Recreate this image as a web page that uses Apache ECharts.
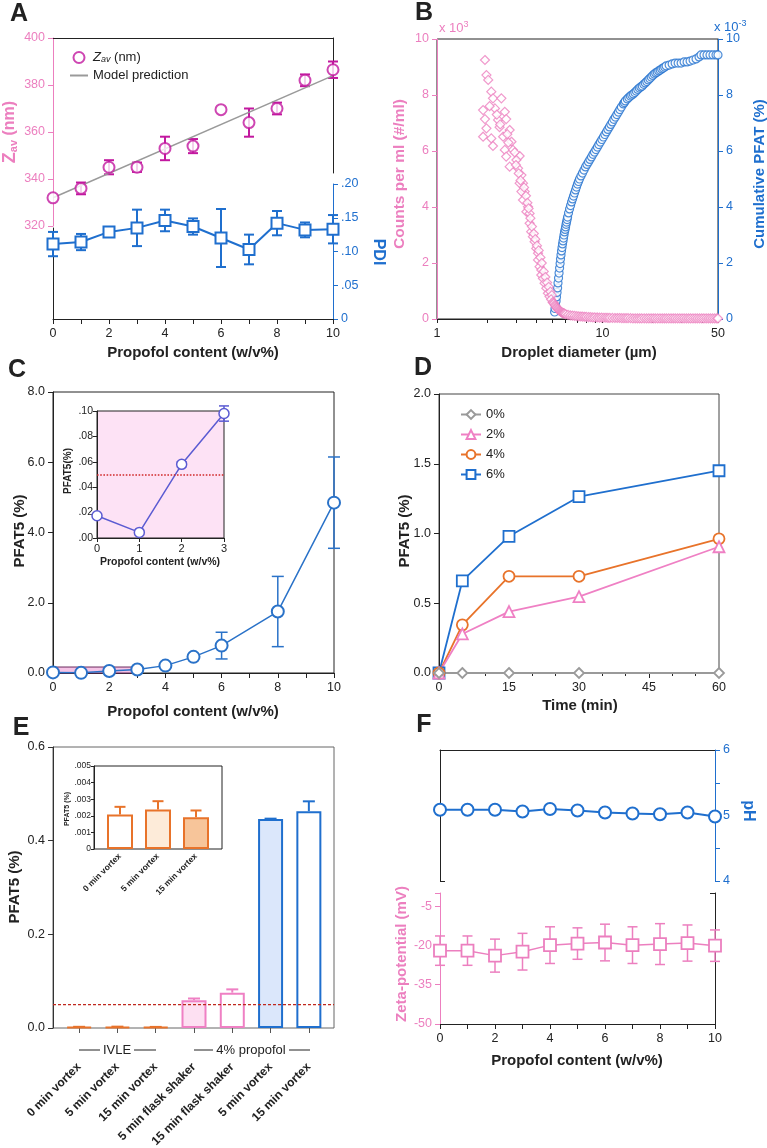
<!DOCTYPE html>
<html><head><meta charset="utf-8">
<script src="https://cdn.jsdelivr.net/npm/echarts@6/dist/echarts.min.js"></script>
<style>html,body{margin:0;padding:0;background:#fff}#c{width:767px;height:1148px}</style>
</head><body><div id="c"></div>
<script>
// ================= DATA =================
// Panel A
const propofolX = [0,1,2,3,4,5,6,7,8,9,10];
const zavMean = [332,336,345,345,353,354,369.5,364,370,382,386.5];
const zavErr  = [0,2.5,3,2,5,3,0,6,2.5,2.5,3.5];
const modelX = [0,10];
const modelY = [332,384];
const pdiMean = [0.111,0.114,0.129,0.135,0.146,0.137,0.120,0.103,0.142,0.132,0.133];
const pdiErr  = [0.018,0.012,0,0.027,0.016,0.012,0.043,0.022,0.018,0.011,0.021];
// Panel B (diameter µm, counts x10^3 /ml)
const bCountsPts = [
 [1.95,9.25],[1.99,8.71],[2.04,8.54],[2.13,8.12],[2.18,7.88],[2.45,7.88],[1.90,7.46],[2.24,7.52],[2.57,7.40],
 [1.95,7.14],[2.34,7.11],[2.62,7.14],[1.99,6.81],[2.39,6.85],[2.75,6.75],[1.90,6.51],[2.13,6.45],[2.18,6.18],
 [2.51,6.51],[2.82,6.33],[2.57,6.04],[2.88,6.04],[2.62,5.80],[3.16,5.82],[2.75,5.44],[3.02,5.68],[3.09,5.38],
 [3.24,5.14],[3.31,4.85],[3.16,4.85],[3.39,4.55],[3.24,4.55],[3.31,4.25],[3.55,4.01],[3.47,3.83],[3.63,3.77],
 [3.63,3.42],[3.71,3.12],[3.80,2.94],[3.89,2.76],[3.98,2.52],[4.08,2.35],[4.08,2.11],[4.17,1.87],[4.27,1.75],
 [4.27,1.57],[4.37,1.45],[4.47,1.28],[4.58,1.10],[4.68,0.92],[4.79,0.80],
 [2.08,7.60],[2.30,7.30],[2.41,6.95],[2.66,6.60],[2.70,6.30],[2.95,5.95],[3.00,5.50],[3.12,5.20],[3.20,4.95],
 [3.36,4.70],[3.45,4.40],[3.52,4.15],[3.58,3.95],[3.67,3.60],[3.75,3.30],[3.85,3.05],[3.93,2.85],[4.02,2.62],
 [4.12,2.45],[4.22,2.20],[4.30,2.00],[4.42,1.70],[4.52,1.50],[4.63,1.30],[4.74,1.15],[4.85,0.98],[4.95,0.85],
 [4.90,0.70],[5.00,0.60],[5.05,0.58],[5.10,0.55],[5.15,0.50],[5.20,0.47],[5.25,0.43],[5.30,0.40],[5.35,0.37],
 [5.40,0.35],[5.45,0.32],[5.50,0.30],[5.55,0.28],[5.60,0.26],[5.65,0.245],[5.70,0.23],[5.75,0.22],[5.80,0.21],
 [5.85,0.20],[5.90,0.19],[6.00,0.17],[6.20,0.15],[6.40,0.13],[6.60,0.12],[6.80,0.11],[7.00,0.10],[7.20,0.095],
 [7.40,0.09],[7.60,0.085],[7.80,0.08],[8.00,0.075],[8.25,0.07],[8.50,0.065],[8.75,0.06],[9.00,0.06],[9.30,0.055],
 [9.60,0.05],[9.90,0.05],[10.2,0.045],[10.5,0.045],[10.8,0.04],[11.1,0.04],[11.5,0.04],[11.9,0.035],[12.3,0.035],
 [12.7,0.035],[13.1,0.03],[13.5,0.03],[13.9,0.03],[14.3,0.03],[14.8,0.03],[15.3,0.025],[15.8,0.025],[16.3,0.025],
 [16.8,0.025],[17.3,0.025],[17.9,0.025],[18.5,0.02],[19.1,0.02],[19.7,0.02],[20.3,0.02],[20.9,0.02],[21.6,0.02],
 [22.3,0.02],[23.0,0.02],[23.7,0.02],[24.4,0.02],[25.2,0.02],[26.0,0.02],[26.8,0.02],[27.6,0.02],[28.5,0.02],
 [29.4,0.02],[30.3,0.02],[31.2,0.02],[32.2,0.02],[33.2,0.02],[34.2,0.02],[35.3,0.02],[36.4,0.02],[37.5,0.02],
 [38.7,0.02],[39.9,0.02],[41.1,0.02],[42.4,0.02],[43.7,0.02],[45.0,0.02],[46.4,0.02],[47.8,0.02],[49.2,0.02],[50.0,0.02]
];
// cumulative PFAT (x10^-3 %)
const bCumPts = [
 [5.14,0.25],[5.17,0.375],[5.21,0.50],[5.25,0.64],[5.28,0.79],[5.32,0.95],[5.36,1.11],[5.39,1.29],[5.43,1.46],
 [5.47,1.64],[5.51,1.82],[5.55,1.98],[5.58,2.14],[5.62,2.29],[5.66,2.43],[5.70,2.55],[5.74,2.68],[5.78,2.79],
 [5.82,2.89],[5.86,3.00],[5.90,3.11],[5.95,3.20],[5.99,3.29],[6.03,3.38],[6.07,3.46],[6.12,3.55],[6.16,3.64],
 [6.24,3.79],[6.33,3.93],[6.42,4.05],[6.51,4.18],[6.60,4.29],[6.69,4.39],[6.78,4.50],[6.88,4.61],[6.97,4.71],
 [7.07,4.82],[7.17,4.91],[7.27,5.00],[7.42,5.11],[7.58,5.21],[7.74,5.32],[7.90,5.43],[8.07,5.52],[8.24,5.61],
 [8.41,5.70],[8.59,5.79],[8.77,5.88],[8.95,5.96],[9.14,6.05],[9.33,6.14],[9.52,6.23],[9.72,6.32],[9.93,6.41],
 [10.14,6.50],[10.35,6.59],[10.57,6.68],[10.79,6.77],[11.02,6.86],[11.25,6.95],[11.49,7.04],[11.73,7.13],
 [11.98,7.21],[12.23,7.30],[12.49,7.39],[12.75,7.48],[13.02,7.57],[13.38,7.68],[13.57,7.73],[13.76,7.79],
 [14.14,7.86],[14.44,7.91],[14.75,7.96],[15.05,8.00],[15.37,8.04],[15.70,8.09],[16.02,8.14],[16.36,8.20],
 [16.71,8.25],[17.06,8.29],[17.42,8.32],[17.78,8.38],[18.16,8.43],[18.54,8.48],[18.93,8.54],[19.33,8.59],
 [19.73,8.64],[20.15,8.70],[20.57,8.75],[21.00,8.79],[21.45,8.82],[21.90,8.86],[22.36,8.89],[22.83,8.93],
 [23.31,8.96],[23.80,9.00],[24.30,9.04],[25.33,9.07],[26.41,9.11],[27.53,9.14],[28.70,9.14],[29.92,9.14],
 [31.19,9.18],[32.51,9.18],[33.90,9.21],[35.34,9.25],[36.84,9.29],[38.40,9.36],[39.48,9.43],[41.16,9.43],
 [42.91,9.43],[44.73,9.43],[46.64,9.43],[48.62,9.43],[49.99,9.43]
];
const bLabelVals = [1,10,50];
const bTickVals = [1,2,3,4,5,6,7,8,9,10,20,30,40,50];
// Panel C
const cX = [0,1,2,3,4,5,6,8,10];
const cMean = [0.0175,0.0044,0.058,0.098,0.21,0.46,0.78,1.75,4.85];
const cErr  = [0,0,0.002,0.006,0,0,0.38,1.0,1.3];
const cInsetX = [0,1,2,3];
const cInsetMean = [0.0175,0.0044,0.058,0.098];
const cInsetErr  = [0,0,0.002,0.006];
const cThreshold = 0.05;
const cZoomBox = [[0,0],[3,0.17]];
// Panel D
const dTime = [0,5,15,30,60];
const d0 = [0,0,0,0,0];
const d2 = [0,0.28,0.44,0.547,0.905];
const d4 = [0,0.345,0.693,0.693,0.962];
const d6 = [0,0.66,0.98,1.264,1.45];
// Panel E
const eCats = ['0 min vortex','5 min vortex','15 min vortex','5 min flask shaker','15 min flask shaker','5 min vortex','15 min vortex'];
const eMean = [0.00208,0.00238,0.00192,0.059,0.0755,0.446,0.463];
const eErr  = [0.00046,0.0005,0.0004,0.004,0.007,0.001,0.021];
const eInsetCats = ['0 min vortex','5 min vortex','15 min vortex'];
const eInsetMean = [0.00208,0.00238,0.00192];
const eInsetErr  = [0.00046,0.0005,0.0004];
const eThreshold = 0.05;
// Panel F
const fPH   = [5.087,5.087,5.087,5.06,5.10,5.077,5.046,5.03,5.02,5.046,4.985];
const fZeta = [-22.0,-22.0,-23.9,-22.4,-19.9,-19.3,-18.9,-19.9,-19.5,-19.1,-20.1];
const fZetaErr = [5.6,5.6,6.3,7.0,7.0,6.0,7.0,7.0,7.8,6.9,6.0];
const fZetaTicks = [-50,-35,-20,-5];

// ================= STYLE =================
const FONT = '"Liberation Sans", Arial, Helvetica, sans-serif';
const PINK = '#ec7fbf', BLUE = '#1f6fce', MAG = '#c2189f', GRAY = '#9a9a9a', ORANGE = '#e8732a', DPINK = '#ef80c4', CBLUE = '#2a72c8', IBLUE = '#5b5bd2';
const INK = '#222';
const eFill   = ['#ffffff','#fdebd9','#f7c59a','#fde0f2','#ffffff','#dbe7fb','#ffffff'];
const eBorder = [ORANGE,ORANGE,ORANGE,DPINK,DPINK,BLUE,BLUE];

const grids=[], xAxes=[], yAxes=[], series=[], gfx=[];
function grid(l,t,w,h,extra){ grids.push(Object.assign({left:l,top:t,width:w,height:h,containLabel:false,outerBoundsMode:'none'},extra||{})); return grids.length-1; }
function ax(list,o){ list.push(Object.assign({type:'value',min:0,max:1,splitLine:{show:false},axisLine:{show:false,onZero:false},axisTick:{show:false},axisLabel:{show:false}},o)); return list.length-1; }
function aline(color,w){ return {show:true,onZero:false,lineStyle:{color:color,width:w||1}}; }
function aticks(color,extra){ return Object.assign({show:true,length:5,lineStyle:{color:color,width:1}},extra||{}); }
function alabels(color,size,extra){ return Object.assign({show:true,color:color,fontSize:size||12,fontFamily:FONT},extra||{}); }
const evenOnly = v => (Math.round(v)%2===0 ? String(Math.round(v)) : '');
const hollow = (c,w) => ({color:'#fff',borderColor:c,borderWidth:w||2});
function errBars(xi,yi,xs,ys,es,color,cap,lw,upOnly,colorFn){
  return {type:'custom',xAxisIndex:xi,yAxisIndex:yi,z:1,silent:true,clip:false,
    data: xs.map((x,i)=>[x,ys[i],es[i]]),
    renderItem:(p,api)=>{
      const x=api.value(0), y=api.value(1), e=api.value(2);
      if(!e) return null;
      const a=api.coord([x,y+e]), b=api.coord([x,upOnly?y:y-e]);
      const st={stroke:colorFn?colorFn(p.dataIndex):color,lineWidth:lw};
      const ch=[{type:'line',shape:{x1:a[0],y1:a[1],x2:b[0],y2:b[1]},style:st},
                {type:'line',shape:{x1:a[0]-cap/2,y1:a[1],x2:a[0]+cap/2,y2:a[1]},style:st}];
      if(!upOnly) ch.push({type:'line',shape:{x1:b[0]-cap/2,y1:b[1],x2:b[0]+cap/2,y2:b[1]},style:st});
      return {type:'group',children:ch};
    }};
}
function txt(x,y,text,font,fill,o){ o=o||{}; return {type:'text',x:x,y:y,rotation:o.rot||0,silent:true,z:10,
  style:{text:text,font:font,fill:fill,align:o.align||'center',verticalAlign:o.va||'middle',rich:o.rich}}; }
function seg(x1,y1,x2,y2){ return {type:'line',silent:true,shape:{x1,y1,x2,y2},style:{stroke:INK,lineWidth:1}}; }
const B = s => 'bold '+s+'px '+FONT, R = s => s+'px '+FONT;
const UP = Math.PI/2, DOWN = -Math.PI/2;

// ================= PANEL A =================
const gA1=grid(53,38,280,188);
const xA1=ax(xAxes,{gridIndex:gA1,min:0,max:10,position:'top',axisLine:aline(INK)});
const yA1=ax(yAxes,{gridIndex:gA1,min:320,max:400,interval:20,position:'left',axisLine:aline(PINK),axisTick:aticks(PINK),axisLabel:alabels(PINK,12.5)});
const gA2=grid(53,184,280,135);
const xA2=ax(xAxes,{gridIndex:gA2,min:0,max:10,interval:1,position:'bottom',axisLine:aline(INK),axisTick:aticks(INK),axisLabel:alabels(INK,12.5,{formatter:evenOnly,margin:8})});
const yA2=ax(yAxes,{gridIndex:gA2,min:0,max:0.2,interval:0.05,position:'right',axisLine:aline(BLUE),axisTick:aticks(BLUE),axisLabel:alabels(BLUE,12.5,{formatter:v=>v===0?'0':v.toFixed(2).replace(/^0/,'')})});
const gA3=grid(53,38,280,135);
ax(xAxes,{gridIndex:gA3}); ax(yAxes,{gridIndex:gA3,position:'right',axisLine:aline(INK)});
const gA4=grid(53,228,280,91);
ax(xAxes,{gridIndex:gA4}); ax(yAxes,{gridIndex:gA4,position:'left',axisLine:aline(INK)});
series.push({name:'Model prediction',type:'line',xAxisIndex:xA1,yAxisIndex:yA1,data:modelX.map((x,i)=>[x,modelY[i]]),symbol:'none',lineStyle:{color:GRAY,width:1.5},itemStyle:{color:GRAY},z:2});
series.push(errBars(xA1,yA1,propofolX,zavMean,zavErr,MAG,10,2));
series.push({name:'Zav (nm)',type:'scatter',xAxisIndex:xA1,yAxisIndex:yA1,data:propofolX.map((x,i)=>[x,zavMean[i]]),symbol:'circle',symbolSize:11,itemStyle:hollow(MAG,2),z:3});
series.push(errBars(xA2,yA2,propofolX,pdiMean,pdiErr,BLUE,10,2));
series.push({type:'line',xAxisIndex:xA2,yAxisIndex:yA2,data:propofolX.map((x,i)=>[x,pdiMean[i]]),symbol:'rect',symbolSize:11,itemStyle:hollow(BLUE,2),lineStyle:{color:BLUE,width:2},z:3});

// ================= PANEL B =================
const gB=grid(437,39,281,280,{show:true,borderColor:INK,borderWidth:1});
const xB=ax(xAxes,{gridIndex:gB,type:'log',logBase:10,min:1,max:50,position:'bottom',axisLine:aline(INK),
  axisTick:aticks(INK,{customValues:bTickVals,length:4}),axisLabel:alabels(INK,12.5,{customValues:bLabelVals,margin:8})});
const yB1=ax(yAxes,{gridIndex:gB,min:0,max:10,interval:2,position:'left',axisLine:aline(PINK),axisTick:aticks(PINK),axisLabel:alabels(PINK,12.5)});
const yB2=ax(yAxes,{gridIndex:gB,min:0,max:10,interval:2,position:'right',axisLine:aline(BLUE),axisTick:aticks(BLUE),axisLabel:alabels(BLUE,12.5)});
series.push({type:'scatter',xAxisIndex:xB,yAxisIndex:yB2,data:bCumPts,symbol:'circle',symbolSize:8,itemStyle:hollow(BLUE,1.2),z:2});
series.push({type:'scatter',xAxisIndex:xB,yAxisIndex:yB1,data:bCountsPts,symbol:'diamond',symbolSize:9,itemStyle:hollow(PINK,1.2),z:3});

// ================= PANEL C =================
const gC=grid(53,392,281,281,{show:true,borderColor:INK,borderWidth:1});
const xC=ax(xAxes,{gridIndex:gC,min:0,max:10,interval:1,position:'bottom',axisLine:aline(INK),axisTick:aticks(INK),axisLabel:alabels(INK,12.5,{formatter:evenOnly,margin:8})});
const yC=ax(yAxes,{gridIndex:gC,min:0,max:8,interval:2,position:'left',axisLine:aline(INK),axisTick:aticks(INK),axisLabel:alabels(INK,12.5,{formatter:v=>v.toFixed(1)})});
series.push(errBars(xC,yC,cX,cMean,cErr,CBLUE,12,1.5));
series.push({type:'line',xAxisIndex:xC,yAxisIndex:yC,data:cX.map((x,i)=>[x,cMean[i]]),symbol:'circle',symbolSize:12,itemStyle:hollow(CBLUE,2),lineStyle:{color:CBLUE,width:1.5},z:3,
  markArea:{silent:true,itemStyle:{color:'#f5c3e6',borderColor:'#6b2a5e',borderWidth:1},data:[[{coord:cZoomBox[0]},{coord:cZoomBox[1]}]]}});
const gCi=grid(97,411,127,127,{show:true,backgroundColor:'#fde2f5',borderColor:INK,borderWidth:1});
const xCi=ax(xAxes,{gridIndex:gCi,min:0,max:3,interval:1,position:'bottom',axisLine:aline(INK),axisTick:aticks(INK,{length:4}),axisLabel:alabels(INK,11,{margin:5})});
const yCi=ax(yAxes,{gridIndex:gCi,min:0,max:0.1,interval:0.02,position:'left',axisLine:aline(INK),axisTick:aticks(INK,{length:4}),axisLabel:alabels(INK,10.5,{margin:4,formatter:v=>v.toFixed(2).replace(/^0/,'')})});
series.push(errBars(xCi,yCi,cInsetX,cInsetMean,cInsetErr,IBLUE,10,1.5));
series.push({type:'line',xAxisIndex:xCi,yAxisIndex:yCi,data:cInsetX.map((x,i)=>[x,cInsetMean[i]]),symbol:'circle',symbolSize:10,itemStyle:hollow(IBLUE,1.5),lineStyle:{color:IBLUE,width:1.5},z:3,
  markLine:{silent:true,symbol:'none',label:{show:false},lineStyle:{color:'#d12a2a',type:'dotted',width:1.6},data:[{yAxis:cThreshold}]}});

// ================= PANEL D =================
const gD=grid(439,394,280,279,{show:true,borderColor:'#444',borderWidth:1});
const xD=ax(xAxes,{gridIndex:gD,min:0,max:60,interval:15,position:'bottom',axisLine:aline('#444'),axisTick:aticks(INK),minorTick:{show:true,splitNumber:3,length:3,lineStyle:{color:INK}},axisLabel:alabels(INK,12.5,{margin:8})});
const yD=ax(yAxes,{gridIndex:gD,min:0,max:2,interval:0.5,position:'left',axisLine:aline(INK),axisTick:aticks(INK),axisLabel:alabels(INK,12.5,{formatter:v=>v.toFixed(1)})});
const dSpec=[['6%',d6,'rect',BLUE,11],['4%',d4,'circle',ORANGE,11],['2%',d2,'triangle',DPINK,11],['0%',d0,'diamond',GRAY,10]];
dSpec.forEach(s=>series.push({name:s[0],type:'line',xAxisIndex:xD,yAxisIndex:yD,data:dTime.map((t,i)=>[t,s[1][i]]),symbol:s[2],symbolSize:s[4],itemStyle:hollow(s[3],1.8),lineStyle:{color:s[3],width:1.8},z:3}));

// ================= PANEL E =================
const gEf=grid(53,747,281,281,{show:true,borderColor:'#666',borderWidth:1});
const xEf=ax(xAxes,{gridIndex:gEf});
const yEf=ax(yAxes,{gridIndex:gEf,min:0,max:0.6,interval:0.2,position:'left',axisLine:aline('#333'),axisTick:aticks('#333'),axisLabel:alabels(INK,12.5,{formatter:v=>v.toFixed(1)})});
series.push({type:'line',xAxisIndex:xEf,yAxisIndex:yEf,data:[[0,eThreshold],[1,eThreshold]],symbol:'none',lineStyle:{color:'#c0281e',type:[3,2],width:1.2},z:4,silent:true});
const gEi=grid(60,747,268,281);
const xEi=ax(xAxes,{gridIndex:gEi,type:'category',min:null,max:null,data:eCats,boundaryGap:true,position:'bottom',axisLine:{show:false,onZero:false},
  axisTick:aticks('#555',{alignWithLabel:true,interval:0}),axisLabel:alabels(INK,12,{rotate:45,fontWeight:'bold',margin:37,interval:0})});
const yEi=ax(yAxes,{gridIndex:gEi,min:0,max:0.6});
series.push({type:'bar',xAxisIndex:xEi,yAxisIndex:yEi,barWidth:25,z:2,data:eMean.map((v,i)=>({value:v,itemStyle:{color:eFill[i],borderColor:eBorder[i],borderWidth:2}}))});
series.push(errBars(xEi,yEi,eCats.map((c,i)=>i),eMean,eErr,null,12,2,true,i=>eBorder[i]));
// inset
const gE2f=grid(94,766,128,83,{show:true,borderColor:INK,borderWidth:1});
const xE2f=ax(xAxes,{gridIndex:gE2f});
const yE2f=ax(yAxes,{gridIndex:gE2f,min:0,max:0.005,interval:0.001,position:'left',axisLine:aline(INK),axisTick:aticks(INK,{length:3}),axisLabel:alabels(INK,8.5,{margin:3,formatter:v=>v===0?'0':v.toFixed(3).replace(/^0/,'')})});
const gE2i=grid(101,766,114,83);
const xE2i=ax(xAxes,{gridIndex:gE2i,type:'category',min:null,max:null,data:eInsetCats,boundaryGap:true,position:'bottom',axisLine:{show:false,onZero:false},
  axisTick:{show:false},axisLabel:alabels(INK,8.5,{rotate:45,fontWeight:'bold',margin:6,interval:0})});
const yE2i=ax(yAxes,{gridIndex:gE2i,min:0,max:0.005});
series.push({type:'bar',xAxisIndex:xE2i,yAxisIndex:yE2i,barWidth:26,z:2,data:eInsetMean.map((v,i)=>({value:v,itemStyle:{color:eFill[i],borderColor:ORANGE,borderWidth:2}}))});
series.push(errBars(xE2i,yE2i,eInsetCats.map((c,i)=>i),eInsetMean,eInsetErr,ORANGE,11,2,true));

// ================= PANEL F =================
const gF1=grid(440,750,275,131);
const xF1=ax(xAxes,{gridIndex:gF1,min:0,max:10,position:'top',axisLine:aline(INK)});
const yF1=ax(yAxes,{gridIndex:gF1,min:4,max:6,interval:0.5,position:'right',axisLine:aline(BLUE),axisTick:aticks(BLUE),axisLabel:alabels(BLUE,12.5,{formatter:v=>Number.isInteger(v)?String(v):''})});
ax(yAxes,{gridIndex:gF1,min:4,max:6,position:'left',axisLine:aline(INK),axisTick:aticks(INK,{customValues:[4],inside:true})});
series.push({type:'line',xAxisIndex:xF1,yAxisIndex:yF1,data:propofolX.map((x,i)=>[x,fPH[i]]),symbol:'circle',symbolSize:12,itemStyle:hollow(BLUE,2),lineStyle:{color:BLUE,width:2},z:3});
const gF2=grid(440,893,275,131);
const xF2=ax(xAxes,{gridIndex:gF2,min:0,max:10,interval:1,position:'bottom',axisLine:aline(INK),axisTick:aticks(INK),axisLabel:alabels(INK,12.5,{formatter:evenOnly,margin:8})});
const yF2=ax(yAxes,{gridIndex:gF2,min:-50,max:0,position:'left',axisLine:aline(PINK),axisTick:aticks(PINK,{customValues:fZetaTicks.concat([0])}),axisLabel:alabels(PINK,12.5,{customValues:fZetaTicks})});
ax(yAxes,{gridIndex:gF2,min:-50,max:0,position:'right',axisLine:aline(INK),axisTick:aticks(INK,{customValues:[0],inside:true})});
series.push(errBars(xF2,yF2,propofolX,fZeta,fZetaErr,PINK,10,1.5));
series.push({type:'line',xAxisIndex:xF2,yAxisIndex:yF2,data:propofolX.map((x,i)=>[x,fZeta[i]]),symbol:'rect',symbolSize:12,itemStyle:hollow(PINK,1.8),lineStyle:{color:PINK,width:1.5},z:3});

// ================= TEXT =================
gfx.push(txt(19,14,'A',B(25),INK));
gfx.push(txt(424,13,'B',B(25),INK));
gfx.push(txt(17,370,'C',B(25),INK));
gfx.push(txt(423,368,'D',B(25),INK));
gfx.push(txt(21,728,'E',B(25),INK));
gfx.push(txt(424,725,'F',B(25),INK));
gfx.push(txt(10,132,'{z|Z}{s|av}{n| (nm)}','',PINK,{rot:UP,rich:{z:{font:B(18),fill:PINK},s:{font:B(11),fill:PINK,verticalAlign:'bottom'},n:{font:B(16),fill:PINK}}}));
gfx.push(txt(378,252,'PDI',B(16),BLUE,{rot:DOWN}));
gfx.push(txt(193,353,'Propofol content (w/v%)',B(15),INK));
gfx.push(txt(439,28,'{a|x 10}{b|3}','',PINK,{align:'left',rich:{a:{font:R(13),fill:PINK},b:{font:R(9),fill:PINK,verticalAlign:'top',padding:[0,0,6,0]}}}));
gfx.push(txt(714,27,'{a|x 10}{b|-3}','',BLUE,{align:'left',rich:{a:{font:R(13),fill:BLUE},b:{font:R(9),fill:BLUE,verticalAlign:'top',padding:[0,0,6,0]}}}));
gfx.push(txt(400,174,'Counts per ml (#/ml)',B(15.5),PINK,{rot:UP}));
gfx.push(txt(760,174,'Cumulative PFAT (%)',B(15),BLUE,{rot:UP}));
gfx.push(txt(579,353,'Droplet diameter (µm)',B(15),INK));
gfx.push(txt(20,531,'PFAT5 (%)',B(15),INK,{rot:UP}));
gfx.push(txt(193,712,'Propofol content (w/v%)',B(15),INK));
gfx.push(txt(68,471,'PFAT5(%)',B(10),INK,{rot:UP}));
gfx.push(txt(160,562,'Propofol content (w/v%)',B(10.5),INK));
gfx.push(txt(405,531,'PFAT5 (%)',B(15),INK,{rot:UP}));
gfx.push(txt(580,706,'Time (min)',B(15),INK));
gfx.push(txt(15,887,'PFAT5 (%)',B(15),INK,{rot:UP}));
gfx.push(txt(67,809,'PFAT5 (%)',B(7),INK,{rot:UP}));
gfx.push(txt(117,1050,'IVLE',R(13),INK));
gfx.push(seg(79,1050,100,1050)); gfx.push(seg(134,1050,156,1050));
gfx.push(txt(251,1050,'4% propofol',R(13),INK));
gfx.push(seg(194,1050,213,1050)); gfx.push(seg(289,1050,310,1050));
gfx.push(txt(402,954,'Zeta-potential (mV)',B(15),PINK,{rot:UP}));
gfx.push(txt(748,811,'pH',B(16),BLUE,{rot:DOWN}));
gfx.push(txt(577,1061,'Propofol content (w/v%)',B(15),INK));

const chart = echarts.init(document.getElementById('c'), null, {renderer:'canvas'});
chart.setOption({
  animation:false,
  backgroundColor:'#fff',
  textStyle:{fontFamily:FONT},
  grid:grids, xAxis:xAxes, yAxis:yAxes, series:series,
  legend:[
    {data:[{name:'Zav (nm)'},{name:'Model prediction',itemStyle:{opacity:0}}],left:64,top:46,orient:'vertical',itemGap:5,itemWidth:18,itemHeight:11,
     formatter:n=>n==='Zav (nm)'?'{i|Z}{s|av}{n| (nm)}':n,
     textStyle:{fontSize:13,color:INK,rich:{i:{fontSize:13,fontStyle:'italic'},s:{fontSize:9,fontStyle:'italic',verticalAlign:'bottom'},n:{fontSize:13}}}},
    {data:['0%','2%','4%','6%'],left:455,top:403,orient:'vertical',itemGap:7,itemWidth:20,itemHeight:11,textStyle:{fontSize:13,color:INK}}
  ],
  graphic:{elements:gfx}
});
</script></body></html>
